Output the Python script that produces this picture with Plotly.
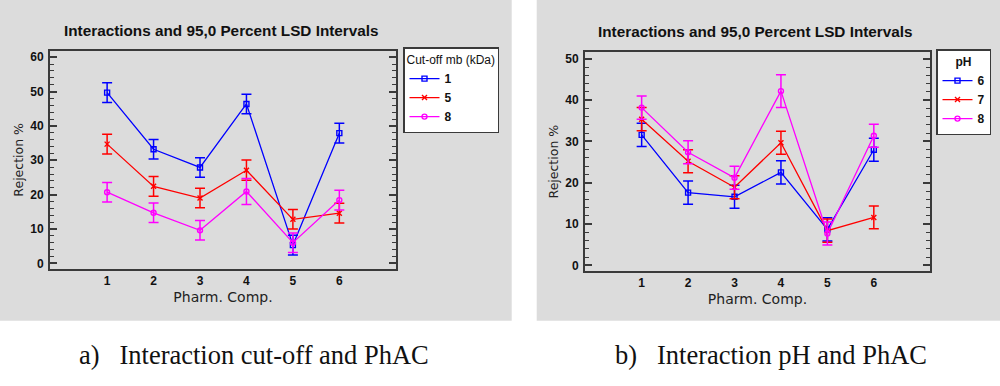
import plotly.graph_objects as go

# ---------------- data ----------------
pharm_comp = [1, 2, 3, 4, 5, 6]
tick_labels = ["1", "2", "3", "4", "5", "6"]

# panel a) cut-off membrane (kDa)
cutoff_names = ["1", "5", "8"]
cutoff_1 = [49.7, 33.2, 27.9, 46.4, 5.3, 37.9]
cutoff_5 = [34.7, 22.4, 19.0, 27.1, 12.8, 14.6]
cutoff_8 = [20.7, 14.7, 9.6, 20.9, 6.0, 18.4]
lsd_cutoff_1 = [2.85, 2.85, 2.85, 2.85, 2.85, 2.85]
lsd_cutoff_5 = [2.85, 2.85, 2.85, 2.95, 2.85, 2.85]
lsd_cutoff_8 = [2.85, 2.85, 2.85, 3.8, 2.85, 2.85]

# panel b) pH
ph_names = ["6", "7", "8"]
ph_6 = [31.6, 17.6, 16.6, 22.5, 8.7, 28.0]
ph_7 = [35.4, 25.2, 18.9, 29.7, 8.4, 11.6]
ph_8 = [38.2, 27.4, 21.2, 42.2, 7.7, 31.4]
lsd_ph_6 = [2.8, 2.8, 2.8, 2.8, 2.8, 2.8]
lsd_ph_7 = [2.8, 2.8, 2.8, 2.8, 2.8, 2.75]
lsd_ph_8 = [2.8, 2.8, 2.8, 3.95, 2.8, 2.8]

title_text = "Interactions and 95,0 Percent LSD Intervals"
x_title = "Pharm. Comp."
y_title = "Rejection %"
caption_a = "a)   Interaction cut-off and PhAC"
caption_b = "b)   Interaction pH and PhAC"

# ---------------- styles ----------------
colors = ["#0000ff", "#ff0000", "#ff00ff"]
symbols = ["square-open", "x-thin-open", "circle-open"]
W, H = 1000, 386
FRAME = "#3a3a3a"
GRAY = "#dcdcdc"

fig = go.Figure()

def add_series(names, ys, errs, xref, yref, legend):
    for i, (n, y, e) in enumerate(zip(names, ys, errs)):
        fig.add_trace(go.Scatter(
            x=pharm_comp, y=y, name=n, mode="lines+markers",
            xaxis=xref, yaxis=yref, legend=legend,
            line=dict(color=colors[i], width=1.3),
            marker=dict(symbol=symbols[i], size=5, color=colors[i],
                        line=dict(color=colors[i], width=1.4)),
            error_y=dict(type="data", array=e, visible=True,
                         color=colors[i], thickness=1.5, width=5),
        ))

add_series(cutoff_names, [cutoff_1, cutoff_5, cutoff_8],
           [lsd_cutoff_1, lsd_cutoff_5, lsd_cutoff_8], "x", "y", "legend")
add_series(ph_names, [ph_6, ph_7, ph_8],
           [lsd_ph_6, lsd_ph_7, lsd_ph_8], "x2", "y2", "legend2")

def px_x(p):
    return p / W

def px_y(p):
    return 1 - p / H

tickfont = dict(family="Liberation Sans", size=12, color="#111111", weight="bold")

def xaxis(domain, rng):
    return dict(
        domain=domain, range=rng, tickvals=pharm_comp, ticktext=tick_labels,
        ticks="", showline=True, linecolor=FRAME, linewidth=2, mirror=True,
        showgrid=False, zeroline=False, tickfont=tickfont, automargin=False,
        title=dict(text=x_title, standoff=5,
                   font=dict(family="DejaVu Sans", size=14, color="#222222")),
    )

def yaxis(domain, rng, anchor):
    return dict(
        domain=domain, range=rng, anchor=anchor, dtick=10, tick0=0,
        ticks="inside", ticklen=7, tickwidth=1.5, tickcolor=FRAME,
        minor=dict(dtick=2, ticks="inside", ticklen=4, tickwidth=1.2,
                   tickcolor=FRAME, showgrid=False),
        showline=True, linecolor=FRAME, linewidth=2, mirror="allticks",
        showgrid=False, zeroline=False, tickfont=tickfont, automargin=False,
        ticklabelstandoff=2,
        title=dict(text=y_title, standoff=4,
                   font=dict(family="DejaVu Sans", size=12.5, color="#222222")),
    )

legend_common = dict(
    xanchor="left", yanchor="top",
    bgcolor="white", bordercolor=FRAME, borderwidth=1.5,
    font=dict(family="Liberation Sans", size=12, color="#111", weight="bold"),
    itemwidth=30, tracegroupgap=0,
)

fig.update_layout(
    width=W, height=H,
    margin=dict(l=0, r=0, t=0, b=0),
    paper_bgcolor="white", plot_bgcolor="white",
    xaxis=dict(xaxis([px_x(50), px_x(396)], [-0.23, 7.22]), anchor="y"),
    yaxis=yaxis([px_y(269), px_y(50.7)], [-1.66, 61.9], "x"),
    xaxis2=dict(xaxis([px_x(585), px_x(930)], [-0.22, 7.21]), anchor="y2"),
    yaxis2=yaxis([px_y(271), px_y(52.3)], [-1.38, 51.6], "x2"),
    legend=dict(
        legend_common, x=px_x(403), y=px_y(47),
        title=dict(text="Cut-off mb (kDa)",
                   font=dict(family="Liberation Sans", size=12, color="#111",
                             weight="normal")),
    ),
    legend2=dict(
        legend_common, x=px_x(936), y=px_y(49),
        title=dict(text="pH", side="top center",
                   font=dict(family="Liberation Sans", size=12, color="#111",
                             weight="bold")),
    ),
    shapes=[
        dict(type="rect", xref="paper", yref="paper", layer="below",
             x0=0, x1=px_x(511.7), y0=px_y(320.7), y1=1,
             fillcolor=GRAY, line=dict(width=0)),
        dict(type="rect", xref="paper", yref="paper", layer="below",
             x0=px_x(536.7), x1=1, y0=px_y(320.7), y1=1,
             fillcolor=GRAY, line=dict(width=0)),
    ],
    annotations=[
        dict(text=title_text, xref="paper", yref="paper", x=px_x(221), y=px_y(30),
             showarrow=False, xanchor="center", yanchor="middle",
             font=dict(family="Liberation Sans", size=15.3, color="#111", weight="bold")),
        dict(text=title_text, xref="paper", yref="paper", x=px_x(755.7), y=px_y(31.7),
             showarrow=False, xanchor="center", yanchor="middle",
             font=dict(family="Liberation Sans", size=15.3, color="#111", weight="bold")),
        dict(text=caption_a, xref="paper", yref="paper", x=px_x(253.5), y=px_y(355),
             showarrow=False, xanchor="center", yanchor="middle",
             font=dict(family="Liberation Serif", size=26.5, color="#111")),
        dict(text=caption_b, xref="paper", yref="paper", x=px_x(771), y=px_y(355),
             showarrow=False, xanchor="center", yanchor="middle",
             font=dict(family="Liberation Serif", size=26.5, color="#111")),
    ],
)

# remove the browser's default 8px page margin so the figure fills the window
fig.write_html("out.html", config={"displayModeBar": False},
               post_script="document.body.style.margin='0px';")
